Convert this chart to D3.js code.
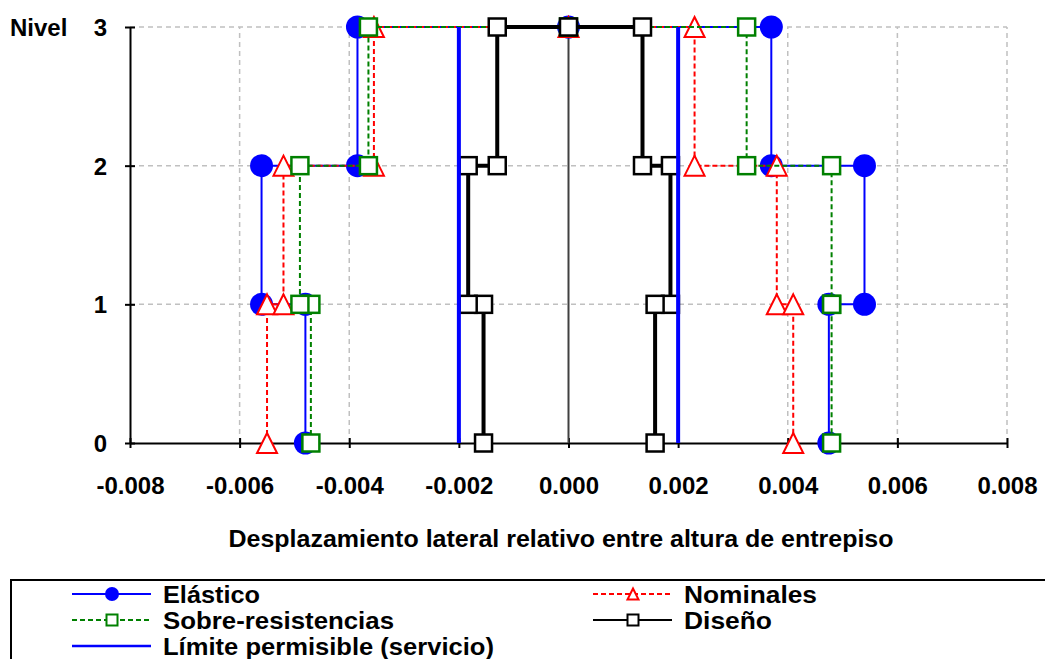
<!DOCTYPE html>
<html>
<head>
<meta charset="utf-8">
<script src="https://cdn.jsdelivr.net/npm/d3@7"></script>
<style>
  body { margin: 0; background: #fff; }
  text { font-family: "Liberation Sans", Arial, sans-serif; font-weight: bold; fill: #000; }
</style>
</head>
<body>
<div id="chart"></div>
<script>
// data: lateral drift ratio per level (step profile, left side then right side)
var stepLevels = [0, 1, 1, 2, 2, 3, 3, 3, 2, 2, 1, 1, 0]

var elasticoX = [-0.0048, -0.0048, -0.0056, -0.0056, -0.00385, -0.00385, 0, 0.0037, 0.0037, 0.0054, 0.0054, 0.00475, 0.00475]
var nominalesX = [-0.0055, -0.0055, -0.0052, -0.0052, -0.00355, -0.00355, 0, 0.0023, 0.0023, 0.0038, 0.0038, 0.0041, 0.0041]
var sobreX = [-0.0047, -0.0047, -0.0049, -0.0049, -0.00365, -0.00365, 0, 0.00325, 0.00325, 0.0048, 0.0048, 0.0048, 0.0048]
var disenoX = [-0.00155, -0.00155, -0.00183, -0.00183, -0.0013, -0.0013, 0, 0.00135, 0.00135, 0.00186, 0.00186, 0.00158, 0.00158]

var limitX = [-0.002, 0.002]
var limitLevels = [0, 3]

var xTicks = [-0.008, -0.006, -0.004, -0.002, 0, 0.002, 0.004, 0.006, 0.008]
var yTicks = [0, 1, 2, 3]

var w = 1045
var h = 659

var svg = d3.select("#chart")
    .append("svg")
    .attr("width", w)
    .attr("height", h)

var x = d3.scaleLinear().domain([-0.008, 0.008]).range([130, 1007])
var y = d3.scaleLinear().domain([0, 3]).range([443, 27])

//grid
svg.append("g")
    .selectAll("line")
    .data(xTicks.filter(function(d){ return d !== -0.008 && d !== 0 }))
    .enter()
    .append("line")
    .attr("x1", function(d){ return x(d) })
    .attr("x2", function(d){ return x(d) })
    .attr("y1", y(0))
    .attr("y2", y(3))
    .attr("stroke", "#c0c0c0")
    .attr("stroke-width", 1.5)
    .attr("stroke-dasharray", "5,4")

svg.append("g")
    .selectAll("line")
    .data(yTicks.filter(function(d){ return d > 0 }))
    .enter()
    .append("line")
    .attr("x1", x(-0.008))
    .attr("x2", x(0.008))
    .attr("y1", function(d){ return y(d) })
    .attr("y2", function(d){ return y(d) })
    .attr("stroke", "#c0c0c0")
    .attr("stroke-width", 1.5)
    .attr("stroke-dasharray", "5,4")

//axes
var xAxis = d3.axisBottom(x).tickValues(xTicks).tickFormat(d3.format(".3f")).tickSize(0)
var gx = svg.append("g").attr("transform", "translate(0," + y(0) + ")").call(xAxis)
gx.select(".domain").attr("stroke", "#000").attr("stroke-width", 2)
gx.selectAll("text").attr("y", 51).attr("dy", 0).style("font-size", "24px")
    .text(function(d){ return d3.format(".3f")(d).replace("−", "-") })
gx.selectAll(".tick").append("line")
    .attr("y1", -5).attr("y2", 5).attr("stroke", "#000").attr("stroke-width", 2)

var yAxis = d3.axisLeft(y).tickValues(yTicks).tickFormat(d3.format("d")).tickSize(0)
var gy = svg.append("g").attr("transform", "translate(" + x(-0.008) + ",0)").call(yAxis)
gy.select(".domain").attr("stroke", "#000").attr("stroke-width", 2)
gy.selectAll("text").attr("x", -23).attr("dy", "0.36em").style("font-size", "24px")
gy.selectAll(".tick").append("line")
    .attr("x1", -5).attr("x2", 5).attr("stroke", "#000").attr("stroke-width", 2)

svg.append("text")
    .attr("x", 10)
    .attr("y", y(3))
    .attr("dy", "0.36em")
    .style("font-size", "24px")
    .text("Nivel")

svg.append("text")
    .attr("x", 561)
    .attr("y", 547)
    .attr("text-anchor", "middle")
    .style("font-size", "24px")
    .attr("textLength", 665)
    .attr("lengthAdjust", "spacingAndGlyphs")
    .text("Desplazamiento lateral relativo entre altura de entrepiso")

//zero line
svg.append("line")
    .attr("x1", x(0)).attr("x2", x(0))
    .attr("y1", y(0)).attr("y2", y(3))
    .attr("stroke", "#404040")
    .attr("stroke-width", 2)

//series
var line = d3.line()
    .x(function(d){ return x(d[0]) })
    .y(function(d){ return y(d[1]) })

function pairs(xs, ls){
    return xs.map(function(v, i){ return [v, ls[i]] })
}

function drawMarker(g, type, cx, cy, color, size, sw){
    if(type === "circle"){
        g.append("circle").attr("cx", cx).attr("cy", cy).attr("r", size / 2).attr("fill", color)
    } else if(type === "triangle"){
        var s = size
        g.append("path")
            .attr("d", "M" + cx + "," + (cy - s / 2) + "L" + (cx + s / 2) + "," + (cy + s / 2) + "L" + (cx - s / 2) + "," + (cy + s / 2) + "Z")
            .attr("fill", "#fff").attr("stroke", color).attr("stroke-width", sw || 2)
    } else {
        g.append("rect")
            .attr("x", cx - size / 2).attr("y", cy - size / 2)
            .attr("width", size).attr("height", size)
            .attr("fill", "#fff").attr("stroke", color).attr("stroke-width", sw || 2.5)
    }
}

var series = [
    {name: "Elástico", xs: elasticoX, color: "#0000ff", width: 2, dash: null, marker: "circle", size: 23},
    {name: "Nominales", xs: nominalesX, color: "#ff0000", width: 2, dash: "5,3", marker: "triangle", size: 20},
    {name: "Sobre-resistencias", xs: sobreX, color: "#008000", width: 2, dash: "5,3", marker: "square", size: 17},
    {name: "Diseño", xs: disenoX, color: "#000000", width: 4, dash: null, marker: "square", size: 17}
]

series.forEach(function(s){
    var pts = pairs(s.xs, stepLevels)
    var g = svg.append("g").attr("class", "series")
    g.append("path")
        .attr("d", line(pts))
        .attr("fill", "none")
        .attr("stroke", s.color)
        .attr("stroke-width", s.width)
        .attr("stroke-dasharray", s.dash)
    pts.forEach(function(p){
        drawMarker(g, s.marker, x(p[0]), y(p[1]), s.color, s.size)
    })
})

//limits
limitX.forEach(function(v){
    svg.append("path")
        .attr("d", line(limitLevels.map(function(l){ return [v, l] })))
        .attr("stroke", "#0000ff")
        .attr("stroke-width", 4)
})

//legend
svg.append("rect")
    .attr("x", 11).attr("y", 580)
    .attr("width", 1045).attr("height", 100)
    .attr("fill", "#fff")
    .attr("stroke", "#000")
    .attr("stroke-width", 2)

var legendItems = [
    {s: series[0], lx: 72, ly: 594, tw: 97},
    {s: series[1], lx: 593, ly: 594, tw: 133},
    {s: series[2], lx: 72, ly: 620, tw: 231},
    {s: series[3], lx: 593, ly: 620, tw: 88},
    {s: {name: "Límite permisible (servicio)", color: "#0000ff", width: 2.5, dash: null, marker: null}, lx: 72, ly: 646, tw: 331}
]

legendItems.forEach(function(it){
    var g = svg.append("g")
    g.append("line")
        .attr("x1", it.lx).attr("x2", it.lx + 79)
        .attr("y1", it.ly).attr("y2", it.ly)
        .attr("stroke", it.s.color)
        .attr("stroke-width", it.s.marker ? 2 : 2.5)
        .attr("stroke-dasharray", it.s.dash)
    if(it.s.marker){
        var size = it.s.marker === "circle" ? 14 : 11
        drawMarker(g, it.s.marker, it.lx + 40, it.ly, it.s.color, size, 2)
    }
    g.append("text")
        .attr("x", it.lx + 91)
        .attr("y", it.ly + 9)
        .style("font-size", "23px")
        .attr("textLength", it.tw)
        .attr("lengthAdjust", "spacingAndGlyphs")
        .text(it.s.name)
})
</script>
</body>
</html>
